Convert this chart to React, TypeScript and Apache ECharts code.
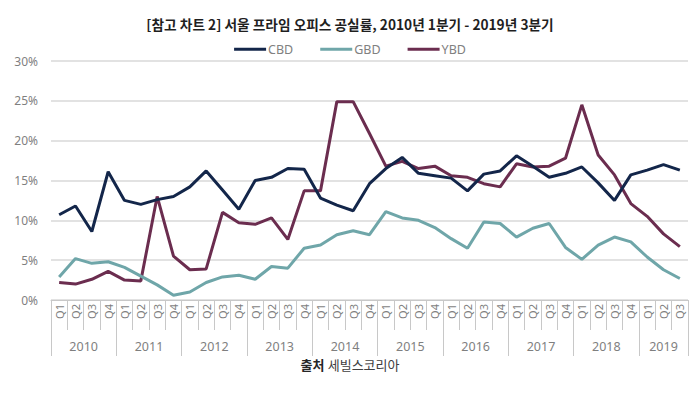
import React, { useEffect, useRef } from "react";
import * as echarts from "echarts";

const years = ["2010", "2011", "2012", "2013", "2014", "2015", "2016", "2017", "2018", "2019"];
const quarters = ["Q1", "Q2", "Q3", "Q4"];
const quarterCountLastYear = 3;

const cbd = [10.7, 11.8, 8.6, 16.1, 12.5, 12.0, 12.6, 13.0, 14.2, 16.2, 13.8, 11.4, 15.0, 15.4, 16.5, 16.4, 12.8, 11.9, 11.2, 14.6, 16.5, 17.9, 15.9, 15.6, 15.3, 13.7, 15.8, 16.2, 18.1, 16.8, 15.4, 15.9, 16.7, 14.7, 12.5, 15.7, 16.3, 17.0, 16.3];
const gbd = [2.9, 5.2, 4.6, 4.8, 4.1, 3.0, 1.9, 0.6, 1.0, 2.2, 2.9, 3.1, 2.6, 4.2, 4.0, 6.5, 6.9, 8.2, 8.7, 8.2, 11.1, 10.3, 10.0, 9.1, 7.7, 6.5, 9.8, 9.6, 7.9, 9.0, 9.6, 6.6, 5.1, 6.9, 7.9, 7.3, 5.4, 3.8, 2.7];
const ybd = [2.2, 2.0, 2.6, 3.6, 2.5, 2.4, 13.0, 5.5, 3.8, 3.9, 11.0, 9.7, 9.5, 10.3, 7.6, 13.7, 13.7, 24.9, 24.9, 20.9, 16.8, 17.4, 16.5, 16.8, 15.6, 15.4, 14.6, 14.2, 17.1, 16.7, 16.8, 17.8, 24.5, 18.2, 15.7, 12.1, 10.5, 8.3, 6.7];

const titleText = "[참고 차트 2] 서울 프라임 오피스 공실률, 2010년 1분기 - 2019년 3분기";
const sourceLabel = "출처";
const sourceName = "세빌스코리아";

const categories: string[] = [];
years.forEach((y, yi) => {
  const n = yi === years.length - 1 ? quarterCountLastYear : 4;
  for (let q = 0; q < n; q++) categories.push(y + " " + quarters[q]);
});

const FONT = "'Noto Sans', 'Noto Sans CJK KR', sans-serif";
const GRAY_LINE = "#c8c8c8";

export default function App() {
  const ref = useRef<HTMLDivElement>(null);
  useEffect(() => {
    if (!ref.current) return;
    const chart = echarts.init(ref.current, null, { renderer: "svg" });
    const lastIdx = categories.length - 1;
    chart.setOption({
      animation: false,
      backgroundColor: "#ffffff",
      textStyle: { fontFamily: FONT },
      title: {
        text: titleText,
        left: "center",
        top: 12,
        textStyle: { fontFamily: "'Noto Sans CJK KR', sans-serif", fontSize: 13.7, fontWeight: "bold", color: "#1f1f1f" },
      },
      legend: {
        top: 38,
        left: "center",
        icon: "rect",
        itemWidth: 32,
        itemHeight: 3,
        itemGap: 27,
        textStyle: { color: "#808080", fontSize: 12.5, fontFamily: FONT, padding: [0, 0, 0, -3] },
        data: ["CBD", "GBD", "YBD"],
      },
      grid: { left: 51, right: 12, top: 61, bottom: 93 },
      xAxis: [
        {
          type: "category",
          data: categories,
          boundaryGap: true,
          axisLine: { show: true, lineStyle: { color: GRAY_LINE, width: 1 } },
          axisTick: { show: true, interval: 0, length: 30, lineStyle: { color: GRAY_LINE } },
          axisLabel: {
            interval: 0,
            rotate: 90,
            margin: 4,
            fontSize: 11,
            color: "#7f7f7f",
            fontFamily: FONT,
            formatter: (v: string) => v.split(" ")[1],
          },
          splitLine: { show: false },
        },
        {
          type: "category",
          data: categories,
          position: "bottom",
          offset: 30,
          boundaryGap: true,
          axisLine: { show: false },
          axisTick: {
            show: true,
            length: 26,
            interval: (i: number) => i % 4 === 0 || i === lastIdx + 1,
            lineStyle: { color: GRAY_LINE },
          },
          axisLabel: {
            interval: 0,
            margin: 9,
            fontSize: 12.5,
            lineHeight: 14,
            color: "#7f7f7f",
            fontFamily: FONT,
            formatter: (v: string, i: number) => {
              const y = v.split(" ")[0];
              const isLast = y === years[years.length - 1];
              if (isLast) return i === lastIdx - 1 ? "{c|" + y + "}" : "";
              return i % 4 === 1 ? "{s|" + y + "}" : "";
            },
            rich: {
              s: { padding: [0, 0, 0, 16.3], fontSize: 12.5, lineHeight: 14, color: "#7f7f7f", fontFamily: FONT },
              c: { fontSize: 12.5, lineHeight: 14, color: "#7f7f7f", fontFamily: FONT },
            },
          },
        },
      ],
      yAxis: {
        type: "value",
        min: 0,
        max: 30,
        interval: 5,
        axisLine: { show: false },
        axisTick: { show: false },
        axisLabel: { formatter: "{value}%", fontSize: 12, color: "#7f7f7f", margin: 13, fontFamily: FONT },
        splitLine: { lineStyle: { color: "#d9d9d9", width: 1.5 } },
      },
      series: [
        { name: "CBD", type: "line", data: cbd, symbol: "none", lineStyle: { width: 3, color: "#13264a" }, itemStyle: { color: "#13264a" }, z: 4 },
        { name: "GBD", type: "line", data: gbd, symbol: "none", lineStyle: { width: 3, color: "#6fa6a9" }, itemStyle: { color: "#6fa6a9" }, z: 3 },
        { name: "YBD", type: "line", data: ybd, symbol: "none", lineStyle: { width: 3, color: "#6b2d4f" }, itemStyle: { color: "#6b2d4f" }, z: 2 },
      ],
      graphic: [
        {
          type: "text",
          left: "center",
          top: 358,
          style: {
            text: "{b|" + sourceLabel + "} {n|" + sourceName + "}",
            rich: {
              b: { fontSize: 13, lineHeight: 15, fontWeight: "bold", fill: "#262626", fontFamily: "'Noto Sans CJK KR', sans-serif" },
              n: { fontSize: 13, lineHeight: 15, fill: "#404040", fontFamily: "'Noto Sans CJK KR', sans-serif" },
            },
          },
        },
      ],
    });
    return () => chart.dispose();
  }, []);
  return <div ref={ref} style={{ position: "fixed", left: 0, top: 0, width: 700, height: 393 }} />;
}
